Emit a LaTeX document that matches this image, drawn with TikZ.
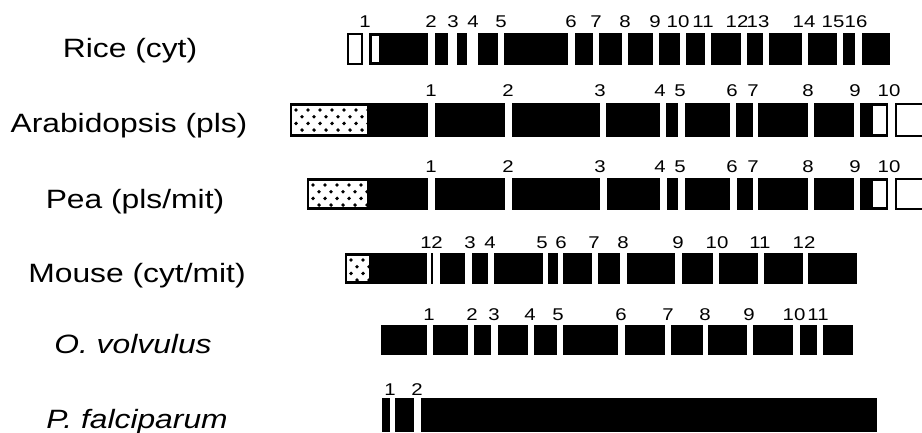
\documentclass[tikz,border=0pt]{standalone}
\usepackage{fontspec}
\setmainfont{Liberation Sans}[FakeStretch=1.2]
\usetikzlibrary{positioning}

% stippled part of an exon: left, right, top, bottom
\newcommand{\stipplebox}[4]{%
  \fill[white] (#1,#3) rectangle (#2,#4);
  \begin{scope}
    \clip (#1,#3) rectangle (#2,#4);
    \foreach \j in {0,...,3}
      \foreach \i in {0,...,7}
        \fill ({#1+4+12*\i+6*mod(\j,2)},{#3+4+6.7*\j}) circle (1.9pt);
  \end{scope}}

\tikzset{
  exon/.style={fill=black},
  openexon/.style={draw=black, line width=1.8pt, fill=white},
  species/.style={anchor=base, inner sep=0pt, font=\fontsize{26.5}{30}\selectfont},
  intron/.style={anchor=base, inner sep=0pt, font=\fontsize{17}{20}\selectfont},
}

\begin{document}
\begin{tikzpicture}[x=1pt, y=-1pt]
  \useasboundingbox (0,0) rectangle (922,433);

  % Rice (cyt)
  \node[species] (rice) at (130,58) {Rice (cyt)};
  \draw[openexon] (348,34) rectangle (362,64);
  \fill[exon] (369,33) rectangle (428,65);
  \fill[white] (372,36) rectangle (379,62);
  \foreach \a/\b in {435/448, 457/467, 478/498, 504/568, 575/593, 599/622,
      628/653, 659/680, 686/705, 711/741, 747/763, 769/802, 808/837,
      843/855, 862/890}
    \fill[exon] (\a,33) rectangle (\b,65);
  \foreach \x/\n in {365/1, 431/2, 453/3, 473/4, 501/5, 571/6, 596/7, 625/8,
      655/9, 678/10, 703/11, 737/12, 758/13, 804/14, 833/15, 856/16}
    \node[intron] (rice-\n) at (\x,28) {\n};

  % Arabidopsis (pls)
  \node[species] (arabidopsis) at (129,133) {Arabidopsis (pls)};
  \fill[exon] (290,103) rectangle (428,137);
  \stipplebox{292}{367}{106}{134}
  \foreach \a/\b in {435/505, 512/600, 606/660, 666/678, 685/730, 736/753,
      758/808, 814/854}
    \fill[exon] (\a,103) rectangle (\b,137);
  \fill[exon] (860,103) rectangle (888,137);
  \fill[white] (873,106) rectangle (885.5,134);
  \draw[line width=1.8pt] (923,104) -- (896,104) -- (896,136) -- (923,136);
  \foreach \x/\n in {431/1, 508/2, 600/3, 660/4, 680/5, 732/6, 753/7, 808/8,
      855/9, 889/10}
    \node[intron] (arabidopsis-\n) at (\x,97) {\n};

  % Pea (pls/mit)
  \node[species] (pea) at (135,208) {Pea (pls/mit)};
  \fill[exon] (307,178) rectangle (428,210);
  \stipplebox{309}{367}{181}{207}
  \foreach \a/\b in {435/505, 512/600, 607/660, 667/678, 685/730, 737/753,
      758/808, 814/854}
    \fill[exon] (\a,178) rectangle (\b,210);
  \fill[exon] (860,178) rectangle (888,210);
  \fill[white] (873,181) rectangle (885.5,207);
  \draw[line width=1.8pt] (923,179) -- (896,179) -- (896,209) -- (923,209);
  \foreach \x/\n in {431/1, 508/2, 600/3, 660/4, 680/5, 732/6, 753/7, 808/8,
      855/9, 889/10}
    \node[intron] (pea-\n) at (\x,173) {\n};

  % Mouse (cyt/mit)
  \node[species] (mouse) at (137,282) {Mouse (cyt/mit)};
  \fill[exon] (345,253) rectangle (427,284);
  \stipplebox{347}{369}{256}{281}
  \foreach \a/\b in {431/433, 440/465, 472/488, 494/543, 548/558, 563/592,
      598/620, 627/675, 682/713, 719/758, 764/803, 808/857}
    \fill[exon] (\a,253) rectangle (\b,284);
  \foreach \x/\n in {426/1, 437/2, 470/3, 490/4, 542/5, 561/6, 594/7, 623/8,
      678/9, 717/10, 760/11, 804/12}
    \node[intron] (mouse-\n) at (\x,248) {\n};

  % O. volvulus
  \node[species] (ovolvulus) at (133,353) {\itshape O. volvulus};
  \foreach \a/\b in {381/427, 433/468, 474/491, 498/528, 534/557, 563/618,
      625/665, 671/703, 708/747, 753/793, 800/817, 823/853}
    \fill[exon] (\a,325) rectangle (\b,355);
  \foreach \x/\n in {429/1, 472/2, 494/3, 530/4, 558/5, 621/6, 668/7, 705/8,
      749/9, 794/10, 818/11}
    \node[intron] (ovolvulus-\n) at (\x,320) {\n};

  % P. falciparum
  \node[species] (pfalciparum) at (137,428) {\itshape P. falciparum};
  \foreach \a/\b in {382/390, 395/414, 421/877}
    \fill[exon] (\a,398) rectangle (\b,432);
  \foreach \x/\n in {390/1, 417/2}
    \node[intron] (pfalciparum-\n) at (\x,395) {\n};
\end{tikzpicture}
\end{document}
